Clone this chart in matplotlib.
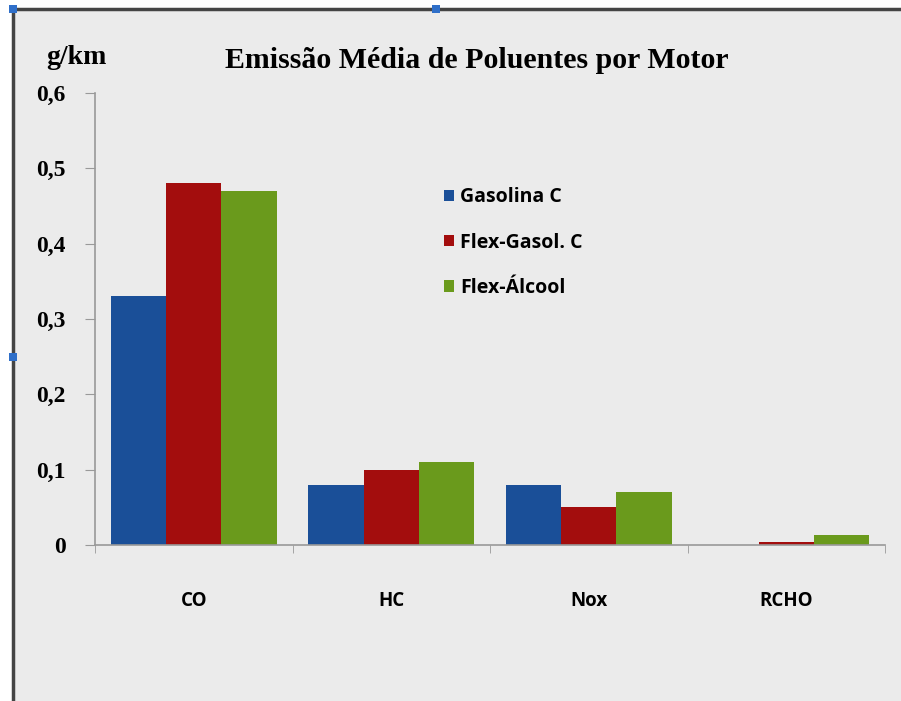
import numpy as np
import matplotlib.pyplot as plt
from matplotlib.lines import Line2D
from matplotlib.patches import Rectangle

categories = ["CO", "HC", "Nox", "RCHO"]
series_names = ["Gasolina C", "Flex-Gasol. C", "Flex-Álcool"]
gasolina_c = [0.33, 0.08, 0.08, 0.0]
flex_gasol_c = [0.48, 0.10, 0.05, 0.004]
flex_alcool = [0.47, 0.11, 0.07, 0.013]
y_ticks = [0, 0.1, 0.2, 0.3, 0.4, 0.5, 0.6]
y_tick_labels = ["0", "0,1", "0,2", "0,3", "0,4", "0,5", "0,6"]

colors = ["#1a4f98", "#a30d0d", "#6a9a1c"]
bg = "#ebebeb"

fig = plt.figure(figsize=(9.01, 7.01), dpi=100)
fig.patch.set_facecolor("white")
# fundo do gráfico (área dentro da moldura)
fig.patches.append(Rectangle((12 / 901, 0), 1, 1 - 9 / 701, transform=fig.transFigure,
                             facecolor=bg, edgecolor="none", zorder=-10))
fig.lines.append(Line2D([13 / 901, 13 / 901], [0, 1 - 8 / 701], transform=fig.transFigure,
                        color="#444444", linewidth=2.5))
fig.lines.append(Line2D([13 / 901, 1], [1 - 9 / 701, 1 - 9 / 701], transform=fig.transFigure,
                        color="#444444", linewidth=2.5))
# pequenas alças de seleção (azuis) da moldura
for hx, hy in [(13, 9), (436, 9), (13, 357)]:
    fig.patches.append(Rectangle(((hx - 4) / 901, 1 - (hy + 4) / 701), 8 / 901, 8 / 701,
                                 transform=fig.transFigure, facecolor="#2f6fc9",
                                 edgecolor="none", zorder=5))

ax = fig.add_axes([95 / 901, 1 - 545 / 701, 790 / 901, 452 / 701])
ax.set_facecolor(bg)
ax.patch.set_alpha(0)

x = np.arange(len(categories))
w = 0.28
for i, (vals, name) in enumerate(zip([gasolina_c, flex_gasol_c, flex_alcool], series_names)):
    ax.bar(x + (i - 1) * w, vals, width=w, color=colors[i], label=name, zorder=2)

ax.set_xlim(-0.5, len(categories) - 0.5)
ax.set_ylim(0, 0.6)
ax.set_yticks(y_ticks)
ax.set_yticklabels(y_tick_labels, fontfamily="Liberation Serif", fontweight="bold", fontsize=17)
ax.set_xticks(x)
ax.set_xticklabels(categories, fontfamily="Open Sans", fontweight="bold", fontsize=13.5)
ax.tick_params(axis="x", length=0, pad=33)
ax.set_xticks(np.arange(-0.5, len(categories)), minor=True)
ax.tick_params(axis="x", which="minor", length=6, color="#999999")
ax.tick_params(axis="y", length=7, color="#999999", pad=14)

for s in ["top", "right"]:
    ax.spines[s].set_visible(False)
for s in ["left", "bottom"]:
    ax.spines[s].set_color("#999999")
    ax.spines[s].set_linewidth(1.2)

fig.text(477 / 901, 1 - 60 / 701, "Emissão Média de Poluentes por Motor",
         ha="center", va="center", fontfamily="Liberation Serif", fontweight="bold", fontsize=21.5)
fig.text(76 / 901, 1 - 58 / 701, "g/km", ha="center", va="center",
         fontfamily="Liberation Serif", fontweight="bold", fontsize=20)

leg = ax.legend(loc="upper left", bbox_to_anchor=(0.42, 0.83), frameon=False,
                handlelength=0.5, handleheight=0.5, handletextpad=0.3, labelspacing=1.3,
                prop={"family": "Open Sans", "weight": "bold", "size": 14})

fig.savefig("out.png", dpi=100, facecolor=fig.get_facecolor())
